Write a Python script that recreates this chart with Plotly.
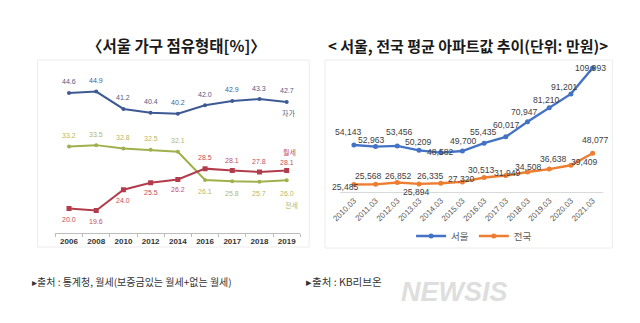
import plotly.graph_objects as go

# ---- Left chart data: Seoul household tenure (%) ----
years = ["2006", "2008", "2010", "2012", "2014", "2016", "2017", "2018", "2019"]
own = [44.6, 44.9, 41.2, 40.4, 40.2, 42.0, 42.9, 43.3, 42.7]      # 자가
jeonse = [33.2, 33.5, 32.8, 32.5, 32.1, 26.1, 25.8, 25.7, 26.0]   # 전세
monthly = [20.0, 19.6, 24.0, 25.5, 26.2, 28.5, 28.1, 27.8, 28.1]  # 월세

# ---- Right chart data: average apartment price (만원) ----
periods = ["2010.03", "2011.03", "2012.03", "2013.03", "2014.03", "2015.03",
           "2016.03", "2017.03", "2018.03", "2019.03", "2020.03", "2021.03"]
seoul = [54143, 52963, 53456, 50209, 48582, 49700, 55435, 60017, 70947, 81210, 91201, 109993]
nation = [25485, 25568, 26852, 25894, 26335, 27320, 30513, 31949, 34508, 36638, 39409, 48077]

W, H = 640, 323
def px(x):
    return x / W
def py(y):
    return (H - y) / H

fig = go.Figure()

OWN_C, JEON_C, MON_C = "#3e5a94", "#9fb04c", "#b23c4c"
OWN_T, JEON_T, MON_T = "#4b5c8c", "#b4b86c", "#c0505e"

fig.add_trace(go.Scatter(x=years, y=own, mode="lines+markers", xaxis="x", yaxis="y",
                         line=dict(color=OWN_C, width=2), marker=dict(size=4, color=OWN_C),
                         showlegend=False, hoverinfo="skip"))
fig.add_trace(go.Scatter(x=years, y=jeonse, mode="lines+markers", xaxis="x", yaxis="y",
                         line=dict(color=JEON_C, width=2), marker=dict(size=4, color=JEON_C),
                         showlegend=False, hoverinfo="skip"))
fig.add_trace(go.Scatter(x=years, y=monthly, mode="lines+markers", xaxis="x", yaxis="y",
                         line=dict(color=MON_C, width=2),
                         marker=dict(size=5, color=MON_C, symbol="square"),
                         showlegend=False, hoverinfo="skip"))

SEOUL_C, NATION_C = "#4472c4", "#ed7d31"
fig.add_trace(go.Scatter(x=periods, y=seoul, mode="lines+markers", xaxis="x2", yaxis="y2",
                         name="서울", line=dict(color=SEOUL_C, width=2.4),
                         marker=dict(size=5, color=SEOUL_C), hoverinfo="skip"))
fig.add_trace(go.Scatter(x=periods, y=nation, mode="lines+markers", xaxis="x2", yaxis="y2",
                         name="전국", line=dict(color=NATION_C, width=2.4),
                         marker=dict(size=5, color=NATION_C), hoverinfo="skip"))

ann = []
LF = "Liberation Sans, Arial, sans-serif"
KF = "Noto Sans CJK KR, sans-serif"

# left data labels (x given as category serial index)
mon_shift = [-11, -11, -11, -10, -10, 11, 10, 10, 8]
jeon_shift = [11, 11, 11, 11, 11, -12, -12, -12, -13]
for i, c in enumerate(years):
    ann.append(dict(x=i, y=own[i], xref="x", yref="y", text=f"{own[i]:.1f}", showarrow=False,
                    xanchor="center", yshift=11, font=dict(size=7, color=OWN_T, family=LF)))
    ann.append(dict(x=i, y=jeonse[i], xref="x", yref="y", text=f"{jeonse[i]:.1f}", showarrow=False,
                    xanchor="center", yshift=jeon_shift[i], font=dict(size=7, color=JEON_T, family=LF)))
    ann.append(dict(x=i, y=monthly[i], xref="x", yref="y", text=f"{monthly[i]:.1f}", showarrow=False,
                    xanchor="center", yshift=mon_shift[i], font=dict(size=7, color=MON_T, family=LF)))
# series names
last = len(years) - 1
ann.append(dict(x=last, y=own[-1], xref="x", yref="y", text="자가", showarrow=False, xanchor="center",
                yshift=-11, xshift=2, font=dict(size=7, color=OWN_T, family=KF)))
ann.append(dict(x=last, y=monthly[-1], xref="x", yref="y", text="월세", showarrow=False, xanchor="center",
                yshift=19, xshift=3, font=dict(size=7, color=MON_T, family=KF)))
ann.append(dict(x=last, y=jeonse[-1], xref="x", yref="y", text="전세", showarrow=False, xanchor="center",
                yshift=-25, xshift=5, font=dict(size=7, color=JEON_T, family=KF)))

# right data labels (pixel offsets relative to point)
seoul_off = [(-5, 13), (-4, 7), (2, 14), (-1, 8), (0, 1), (1, 10), (-1, 11), (1, 12), (-3, 10), (-3, 8), (-6, 7), (-2, 0)]
nation_off = [(-8, -3), (-7, 8), (1, 7), (-3, -8), (-10, 7), (-1, 3), (-3, 8), (2, 3), (1, 5), (4, 10), (14, 3), (3, 13)]
for i, c in enumerate(periods):
    ann.append(dict(x=i, y=seoul[i], xref="x2", yref="y2", text=f"{seoul[i]:,}", showarrow=False,
                    xanchor="center", xshift=seoul_off[i][0], yshift=seoul_off[i][1],
                    font=dict(size=8.6, color="#404040", family=LF)))
    ann.append(dict(x=i, y=nation[i], xref="x2", yref="y2", text=f"{nation[i]:,}", showarrow=False,
                    xanchor="center", xshift=nation_off[i][0], yshift=nation_off[i][1],
                    font=dict(size=8.6, color="#404040", family=LF)))

# titles
ann.append(dict(x=px(171), y=py(45), xref="paper", yref="paper", xanchor="center", yanchor="middle",
                text="<b>〈서울 가구 점유형태[%]〉</b>",
                showarrow=False, font=dict(size=15.5, color="#1a1a1a", family=KF)))
ann.append(dict(x=px(466), y=py(45), xref="paper", yref="paper", xanchor="center", yanchor="middle",
                text="<b>&lt; 서울, 전국 평균 아파트값 추이(단위: 만원)&gt;</b>",
                showarrow=False, font=dict(size=15, color="#1a1a1a", family=KF)))
# footers
ann.append(dict(x=px(22), y=py(281), xref="paper", yref="paper", xanchor="left", yanchor="middle",
                text="▸출처 : 통계청, 월세(보증금있는 월세+없는 월세)",
                showarrow=False, font=dict(size=10, color="#333333", family=KF)))
ann.append(dict(x=px(300), y=py(281), xref="paper", yref="paper", xanchor="left", yanchor="middle",
                text="▸출처 : KB리브온",
                showarrow=False, font=dict(size=10.5, color="#333333", family=KF)))
# watermark
ann.append(dict(x=px(452), y=py(292), xref="paper", yref="paper", xanchor="center", yanchor="middle",
                text="<b><i>NEWSIS</i></b>", showarrow=False,
                font=dict(size=27, color="#dedede", family="Liberation Sans, Arial, sans-serif")))

shapes = [
    dict(type="rect", xref="paper", yref="paper", x0=px(30), x1=px(305), y0=py(247), y1=py(60),
         line=dict(color="#ececec", width=1)),
    dict(type="rect", xref="paper", yref="paper", x0=px(321), x1=px(612), y0=py(248), y1=py(60),
         line=dict(color="#ececec", width=1)),
]

fig.update_layout(
    width=W, height=H,
    margin=dict(l=0, r=0, t=0, b=0),
    paper_bgcolor="white", plot_bgcolor="rgba(0,0,0,0)",
    annotations=ann, shapes=shapes,
    xaxis=dict(domain=[px(48), px(296)], type="category", range=[-0.5, 8.5],
               showline=True, linecolor="#bdbdbd", showgrid=False, zeroline=False,
               ticks="outside", ticklen=3, tickcolor="#bdbdbd", tickson="boundaries",
               tickangle=0,
               tickfont=dict(size=8, color="#333333", family="Liberation Sans, Arial, sans-serif",
                             weight="bold"),
               anchor="y"),
    yaxis=dict(domain=[py(233), py(67.6)], range=[14.8, 50], visible=False, anchor="x"),
    xaxis2=dict(domain=[px(336), px(603)], type="category", range=[-0.65, 11.5],
                showline=True, linecolor="#d9d9d9", showgrid=False, zeroline=False,
                ticks="", tickangle=-45,
                tickfont=dict(size=8, color="#595959", family="Liberation Sans, Arial, sans-serif"),
                anchor="y2"),
    yaxis2=dict(domain=[py(192), py(54.2)], range=[20000, 120000], visible=False, anchor="x2"),
    legend=dict(orientation="h", x=px(472), y=py(236), xanchor="center", yanchor="middle",
                font=dict(size=9.5, color="#595959", family=KF), bgcolor="rgba(0,0,0,0)",
                itemwidth=30, tracegroupgap=0),
)

fig.write_html("out.html")
